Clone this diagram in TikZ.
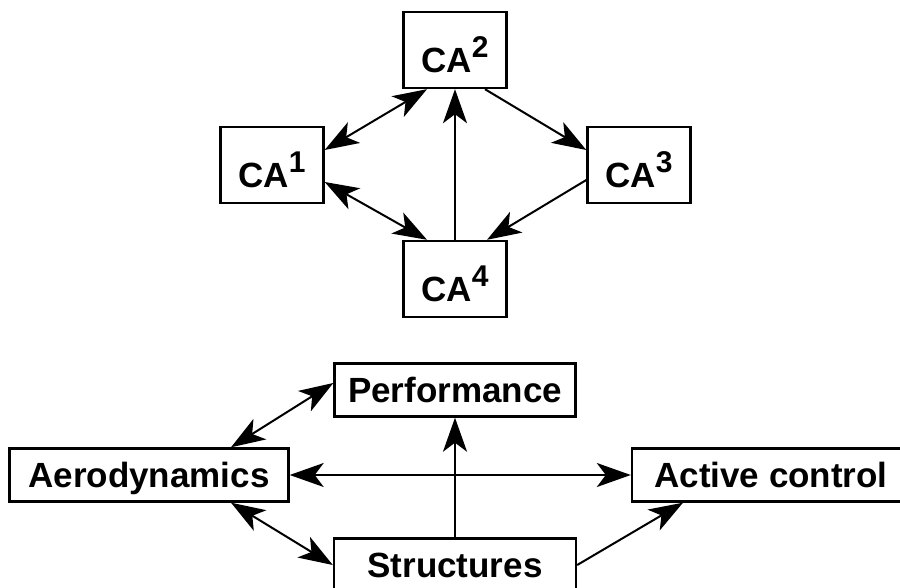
\documentclass[tikz,border=0pt]{standalone}
\usepackage{fontspec}
\setmainfont{Liberation Sans}
\usetikzlibrary{positioning,arrows.meta}

\newcommand{\ca}[1]{CA\raisebox{7.5pt}{\fontsize{15pt}{15pt}\selectfont #1}}

\begin{document}
\begin{tikzpicture}

\tikzset{%
every node/.style={draw, line width=1.2pt, inner sep=0pt, font=\fontsize{17.5pt}{20pt}\selectfont\bfseries},%
every path/.style={line width=1pt},%
tip/.tip={Stealth[length=17pt, width=12pt, inset=4.5pt]},%
on grid%
}

\tikzstyle{cabox}=[minimum width=51.5pt, minimum height=38pt, text height=23pt, text depth=0pt]
\tikzstyle{field}=[minimum height=26.5pt, text height=12.5pt, text depth=0pt]
\tikzstyle{one}=[-tip]
\tikzstyle{two}=[tip-tip]

\useasboundingbox (0,0) rectangle (450pt,-294pt);

% upper diagram
\node[cabox] (ca2) at (227.5pt,-25pt) {\ca{2}};
\node[cabox, below left=57.5pt and 91.5pt of ca2] (ca1) {\ca{1}};
\node[cabox, below right=57.5pt and 92pt of ca2] (ca3) {\ca{3}};
\node[cabox, below=114.5pt of ca2] (ca4) {\ca{4}};

\draw[two] ([yshift=7.5pt]ca1.east) to ([xshift=-14pt]ca2.south);
\draw[two] ([yshift=-8.5pt]ca1.east) to ([xshift=-14pt]ca4.north);
\draw[one] (ca4.north) to (ca2.south);
\draw[one] ([xshift=15pt]ca2.south) to ([yshift=7.5pt]ca3.west);
\draw[one] ([yshift=-7.5pt]ca3.west) to ([xshift=16pt]ca4.north);

% lower diagram
\node[field, minimum width=120.5pt, below=55.5pt of ca4] (perf) {Performance};
\node[field, minimum width=139.5pt, below left=42.5pt and 153pt of perf] (aero) {Aerodynamics};
\node[field, minimum width=139pt, below right=42.5pt and 158pt of perf] (act) {Active control};
\node[field, minimum width=121pt, below=87.5pt of perf] (struct) {Structures};

\draw[two] ([xshift=41pt]aero.north) to ([yshift=3.5pt]perf.west);
\draw[two] (aero.east) to (act.west);
\draw[one] (struct.north) to (perf.south);
\draw[two] ([xshift=41pt]aero.south) to (struct.west);
\draw[one] (struct.east) to ([xshift=-44pt]act.south);

\end{tikzpicture}
\end{document}
